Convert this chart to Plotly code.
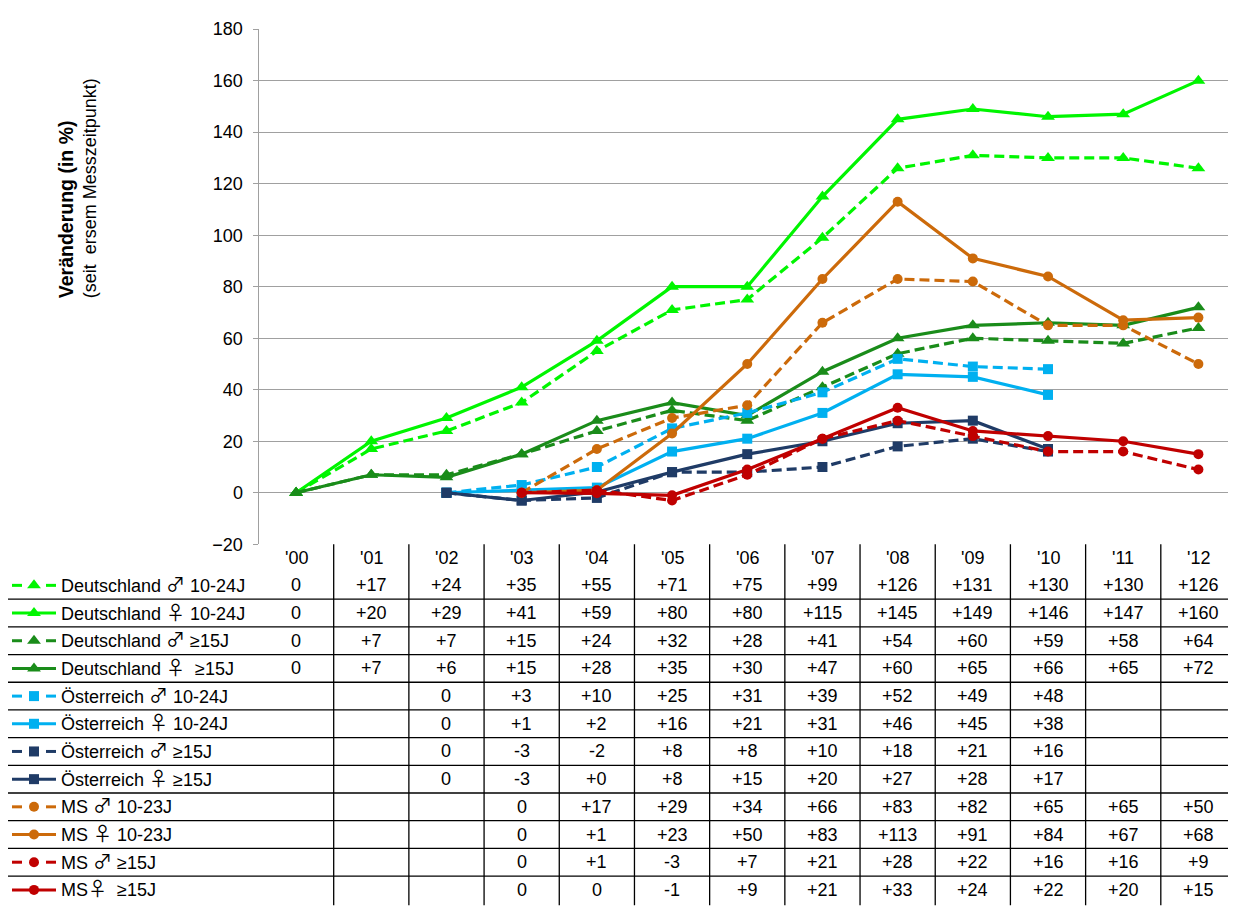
import plotly.graph_objects as go

# ---------------- data ----------------
years = ["'00", "'01", "'02", "'03", "'04", "'05", "'06", "'07", "'08", "'09", "'10", "'11", "'12"]
N = None

names = [
    "Deutschland ♂ 10-24J",
    "Deutschland ♀ 10-24J",
    "Deutschland ♂ ≥15J",
    "Deutschland ♀ \u00a0≥15J",
    "Österreich ♂ 10-24J",
    "Österreich ♀ 10-24J",
    "Österreich ♂ ≥15J",
    "Österreich ♀ ≥15J",
    "MS ♂ 10-23J",
    "MS ♀ 10-23J",
    "MS ♂ ≥15J",
    "MS♀ \u00a0≥15J",
]

de_m_1024 = [0, 17, 24, 35, 55, 71, 75, 99, 126, 131, 130, 130, 126]
de_f_1024 = [0, 20, 29, 41, 59, 80, 80, 115, 145, 149, 146, 147, 160]
de_m_15 = [0, 7, 7, 15, 24, 32, 28, 41, 54, 60, 59, 58, 64]
de_f_15 = [0, 7, 6, 15, 28, 35, 30, 47, 60, 65, 66, 65, 72]
at_m_1024 = [N, N, 0, 3, 10, 25, 31, 39, 52, 49, 48, N, N]
at_f_1024 = [N, N, 0, 1, 2, 16, 21, 31, 46, 45, 38, N, N]
at_m_15 = [N, N, 0, -3, -2, 8, 8, 10, 18, 21, 16, N, N]
at_f_15 = [N, N, 0, -3, 0.3, 8, 15, 20, 27, 28, 17, N, N]
ms_m_1023 = [N, N, N, 0, 17, 29, 34, 66, 83, 82, 65, 65, 50]
ms_f_1023 = [N, N, N, 0, 1, 23, 50, 83, 113, 91, 84, 67, 68]
ms_m_15 = [N, N, N, 0, 1, -3, 7, 21, 28, 22, 16, 16, 9]
ms_f_15 = [N, N, N, 0, -0.2, -1, 9, 21, 33, 24, 22, 20, 15]

series = [de_m_1024, de_f_1024, de_m_15, de_f_15,
          at_m_1024, at_f_1024, at_m_15, at_f_15,
          ms_m_1023, ms_f_1023, ms_m_15, ms_f_15]

GREEN = "#00F500"
DKGREEN = "#1A8C1A"
LBLUE = "#00B0F0"
NAVY = "#1F3B66"
ORANGE = "#CC6A0A"
RED = "#C00000"

colors = [GREEN, GREEN, DKGREEN, DKGREEN, LBLUE, LBLUE, NAVY, NAVY, ORANGE, ORANGE, RED, RED]
symbols = ["triangle-up"] * 4 + ["square"] * 4 + ["circle"] * 4
msizes = [12] * 4 + [10] * 4 + [10] * 4
dashed = [True, False] * 6

y_title_bold = "Veränderung (in %)"
y_title_sub = "(seit \u00a0ersem Messzeitpunkt)"
y_ticks = [-20, 0, 20, 40, 60, 80, 100, 120, 140, 160, 180]

# ---------------- layout constants (screen pixels) ----------------
OFF = 8                      # page body margin
SW, SH = 1236, 910           # screen size
FW, FH = SW + OFF, SH + OFF  # figure size so it fills the viewport
PL, PR = 258.5, 1236.0
PT, PB = 19.4, 546.0
FONT = "Liberation Sans, Arial, sans-serif"
FS = 18
col_w = (PR - PL) / len(years)
row_h = 28.3
header_y = 560.5
row1_y = 588.0


def fmt(vals):
    out = []
    first = True
    for v in vals:
        if v is None:
            out.append("")
            continue
        r = int(round(v))
        if first:
            out.append("0")
            first = False
        elif v > 0:
            out.append("+%d" % r)
        elif r == 0:
            out.append("0")
        else:
            out.append("%d" % r)
    return out


def styled_name(s):
    for g in ("♂", "♀"):
        s = s.replace(g, "<span style='font-family:Noto Sans CJK JP;font-size:19px'>%s</span>" % g)
    return s


fig = go.Figure()
xs = list(range(len(years)))

for i, vals in enumerate(series):
    fig.add_trace(go.Scatter(
        x=xs, y=vals, mode="lines+markers", name=names[i],
        line=dict(color=colors[i], width=3.2, dash="10px,5px" if dashed[i] else "solid"),
        marker=dict(symbol=symbols[i], size=msizes[i], color=colors[i]),
        connectgaps=False, showlegend=False, xaxis="x", yaxis="y",
    ))

# legend keys in screen-pixel space (overlay axis)
for i in range(len(series)):
    yk = row1_y + i * row_h
    if dashed[i]:
        kx, ky = [12, 22, None, 46, 56], [yk, yk, None, yk, yk]
    else:
        kx, ky = [12, 56], [yk, yk]
    fig.add_trace(go.Scatter(
        x=kx, y=ky, mode="lines", line=dict(color=colors[i], width=3),
        showlegend=False, hoverinfo="skip", xaxis="x2", yaxis="y2",
    ))
    fig.add_trace(go.Scatter(
        x=[34], y=[yk], mode="markers",
        marker=dict(symbol=symbols[i], size=msizes[i], color=colors[i]),
        showlegend=False, hoverinfo="skip", xaxis="x2", yaxis="y2",
    ))

shapes = []
annotations = []

# table lines
for k in range(1, len(years)):
    xv = PL + k * col_w
    shapes.append(dict(type="line", xref="x2", yref="y2", x0=xv, x1=xv, y0=PB, y1=SH + 5,
                       line=dict(color="#000000", width=1.3)))
for k in range(1, len(series)):
    yv = row1_y + (k - 0.5) * row_h
    shapes.append(dict(type="line", xref="x2", yref="y2", x0=6, x1=SW + 5, y0=yv, y1=yv,
                       line=dict(color="#000000", width=1.3)))

# header
for j, yr in enumerate(years):
    annotations.append(dict(xref="x2", yref="y2", x=PL + (j + 0.5) * col_w, y=header_y,
                            text=yr, showarrow=False, font=dict(family=FONT, size=FS, color="#000"),
                            xanchor="center", yanchor="middle"))
# rows
for i, vals in enumerate(series):
    yr_ = row1_y + i * row_h
    annotations.append(dict(xref="x2", yref="y2", x=59, y=yr_, text=styled_name(names[i]),
                            showarrow=False, yshift=2,
                            font=dict(family=FONT, size=FS, color="#000"),
                            xanchor="left", yanchor="middle"))
    for j, t in enumerate(fmt(vals)):
        if t:
            annotations.append(dict(xref="x2", yref="y2", x=PL + (j + 0.5) * col_w, y=yr_,
                                    text=t, showarrow=False,
                                    font=dict(family=FONT, size=FS, color="#000"),
                                    xanchor="center", yanchor="middle"))

# y axis title
annotations.append(dict(xref="x2", yref="y2", x=77, y=182,
                        text="<b><span style='font-size:19.5px'>%s</span></b><br>%s"
                             % (y_title_bold, y_title_sub),
                        showarrow=False, textangle=-90, align="left",
                        font=dict(family=FONT, size=FS, color="#000"),
                        xanchor="center", yanchor="middle"))

fig.update_layout(
    width=FW, height=FH,
    margin=dict(l=0, r=0, t=0, b=0),
    paper_bgcolor="white", plot_bgcolor="rgba(0,0,0,0)",
    font=dict(family=FONT, size=FS, color="#000"),
    showlegend=False,
    xaxis=dict(domain=[(PL - OFF) / FW, (PR - OFF) / FW], range=[-0.5, len(years) - 0.5],
               showticklabels=False, showgrid=False, zeroline=False, showline=False,
               ticks="", anchor="y", fixedrange=True),
    yaxis=dict(domain=[1 - (PB - OFF) / FH, 1 - (PT - OFF) / FH], range=[-20, 180],
               tickvals=y_ticks, ticks="outside", ticklen=5, tickcolor="#A0A0A0",
               showgrid=True, gridcolor="#A0A0A0", gridwidth=1,
               zeroline=False, showline=True, linecolor="#A0A0A0", linewidth=1,
               tickfont=dict(family=FONT, size=FS, color="#000"),
               ticklabelstandoff=6, anchor="x", fixedrange=True),
    xaxis2=dict(domain=[0, 1], range=[OFF, OFF + FW], visible=False, anchor="y2", fixedrange=True),
    yaxis2=dict(domain=[0, 1], range=[OFF + FH, OFF], visible=False, anchor="x2", fixedrange=True),
    shapes=shapes,
    annotations=annotations,
)

fig.write_html("out.html")
